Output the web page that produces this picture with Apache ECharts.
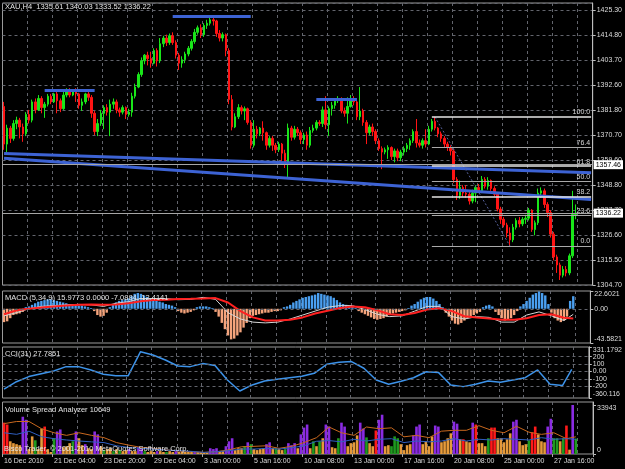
<!DOCTYPE html>
<html>
<head>
<meta charset="utf-8">
<title>XAU,H4</title>
<script src="https://cdn.jsdelivr.net/npm/echarts@6/dist/echarts.min.js"></script>
<style>
  html, body { margin: 0; padding: 0; background: #000; }
  #chart { width: 625px; height: 469px; }
</style>
</head>
<body>
<div id="chart"></div>
<script>
// H4 bars, [open, close, low, high]
const candles = [
  [1383.0,1366.5,1364.0,1385.0],[1366.5,1373.5,1363.0,1375.0],[1373.5,1369.0,1367.0,1374.5],[1369.0,1375.5,1368.0,1377.0],
  [1375.5,1377.0,1373.0,1378.5],[1377.0,1374.0,1369.0,1378.0],[1374.0,1371.0,1367.5,1375.5],[1371.0,1379.5,1370.0,1380.5],
  [1379.5,1377.0,1375.5,1381.5],[1377.0,1385.0,1376.0,1386.0],[1385.0,1381.5,1380.0,1386.5],[1381.5,1386.5,1381.0,1388.0],
  [1386.5,1382.5,1380.0,1387.5],[1382.5,1384.0,1378.0,1385.0],[1384.0,1387.5,1383.0,1388.5],[1387.5,1385.0,1384.0,1388.5],
  [1385.0,1388.5,1384.5,1389.0],[1388.5,1385.5,1380.0,1390.5],[1385.5,1382.0,1380.5,1386.5],[1382.0,1388.0,1381.5,1389.5],
  [1388.0,1390.0,1387.0,1391.0],[1390.0,1388.0,1387.0,1391.0],[1388.0,1390.0,1387.5,1390.5],[1390.0,1388.5,1385.0,1391.0],
  [1388.5,1383.5,1382.0,1389.0],[1383.5,1385.0,1381.0,1386.5],[1385.0,1388.5,1384.0,1389.0],[1388.5,1387.0,1385.5,1389.5],
  [1387.0,1380.0,1378.0,1388.0],[1380.0,1372.0,1370.5,1381.0],[1372.0,1375.5,1370.0,1377.5],[1375.5,1380.0,1374.5,1381.5],
  [1380.0,1382.5,1373.0,1383.5],[1382.5,1380.5,1379.0,1384.0],[1380.5,1384.0,1370.0,1386.0],[1384.0,1385.0,1382.0,1386.5],
  [1385.0,1381.5,1380.0,1386.0],[1381.5,1380.5,1378.5,1382.5],[1380.5,1382.5,1379.5,1383.5],[1382.5,1379.5,1377.5,1383.0],
  [1379.5,1380.5,1378.5,1382.0],[1380.5,1387.5,1378.5,1389.0],[1387.5,1391.5,1386.5,1393.0],[1391.5,1397.0,1391.0,1398.0],
  [1397.0,1403.0,1396.0,1404.5],[1403.0,1405.5,1401.5,1406.0],[1405.5,1404.0,1401.0,1407.0],[1404.0,1402.0,1400.0,1407.0],
  [1402.0,1407.5,1401.5,1408.5],[1407.5,1403.0,1400.5,1408.5],[1403.0,1410.5,1402.0,1413.0],[1410.5,1413.0,1409.0,1414.0],
  [1413.0,1411.0,1409.5,1414.5],[1411.0,1414.0,1410.0,1415.0],[1414.0,1411.0,1410.0,1415.5],[1411.0,1405.5,1404.0,1412.0],
  [1405.5,1402.0,1399.0,1406.5],[1402.0,1403.5,1400.0,1405.0],[1403.5,1406.0,1402.0,1407.0],[1406.0,1408.5,1405.0,1409.5],
  [1408.5,1411.5,1407.5,1412.5],[1411.5,1415.5,1410.5,1417.0],[1415.5,1417.5,1414.5,1418.5],[1417.5,1414.5,1413.0,1419.0],
  [1414.5,1418.5,1413.5,1419.5],[1418.5,1419.5,1417.0,1421.0],[1419.5,1421.0,1418.5,1422.5],[1421.0,1420.5,1418.5,1422.5],
  [1420.5,1415.0,1413.5,1421.0],[1415.0,1413.0,1411.5,1416.5],[1413.0,1414.5,1411.5,1415.5],[1414.5,1407.5,1405.0,1415.0],
  [1407.5,1386.0,1384.0,1408.5],[1386.0,1374.0,1372.5,1388.0],[1374.0,1378.5,1373.5,1380.0],[1378.5,1382.5,1377.5,1384.0],
  [1382.5,1381.0,1379.5,1383.5],[1381.0,1382.0,1377.0,1383.0],[1382.0,1376.0,1375.0,1382.5],[1376.0,1366.0,1364.5,1377.0],
  [1366.0,1373.0,1365.0,1377.0],[1373.0,1371.0,1369.0,1374.5],[1371.0,1373.5,1370.0,1374.0],[1373.5,1371.5,1368.0,1376.5],
  [1371.5,1366.0,1364.0,1372.0],[1366.0,1369.0,1365.0,1370.0],[1369.0,1366.0,1363.5,1370.0],[1366.0,1364.0,1362.5,1367.0],
  [1364.0,1366.5,1363.0,1367.5],[1366.5,1362.5,1359.0,1367.0],[1362.5,1358.5,1356.0,1364.0],[1358.5,1373.5,1352.0,1375.5],
  [1373.5,1369.5,1368.0,1374.5],[1369.5,1373.0,1368.5,1374.5],[1373.0,1371.5,1370.0,1374.0],[1371.5,1368.5,1366.5,1372.5],
  [1368.5,1370.5,1366.5,1371.5],[1370.5,1366.0,1364.0,1372.0],[1366.0,1372.5,1365.0,1374.0],[1372.5,1373.5,1371.5,1375.0],
  [1373.5,1376.0,1372.5,1377.0],[1376.0,1375.5,1374.5,1377.0],[1375.5,1381.5,1374.0,1383.0],[1381.5,1375.0,1373.0,1387.5],
  [1375.0,1382.0,1370.0,1383.0],[1382.0,1383.5,1379.0,1385.0],[1383.5,1385.5,1382.0,1386.5],[1385.5,1386.5,1384.5,1387.5],
  [1386.5,1381.0,1380.0,1387.0],[1381.0,1380.0,1378.5,1382.5],[1380.0,1383.0,1375.5,1387.0],[1383.0,1386.5,1382.5,1388.0],
  [1386.5,1385.0,1383.5,1387.5],[1385.0,1378.5,1377.0,1386.0],[1378.5,1381.0,1377.0,1391.5],[1381.0,1376.0,1374.5,1382.0],
  [1376.0,1371.5,1366.5,1377.0],[1371.5,1374.0,1370.5,1375.0],[1374.0,1372.0,1370.0,1375.5],[1372.0,1368.0,1366.5,1373.0],
  [1368.0,1364.5,1363.5,1369.0],[1364.5,1363.0,1355.5,1365.5],[1363.0,1364.0,1362.0,1365.0],[1364.0,1365.0,1360.0,1366.0],
  [1365.0,1361.0,1359.5,1365.5],[1361.0,1363.5,1358.5,1364.5],[1363.5,1360.5,1359.0,1364.5],[1360.5,1363.0,1359.0,1364.0],
  [1363.0,1364.5,1361.5,1365.5],[1364.5,1366.0,1363.0,1367.0],[1366.0,1368.0,1364.0,1369.0],[1368.0,1372.0,1367.0,1373.0],
  [1372.0,1367.0,1365.0,1377.5],[1367.0,1366.0,1365.0,1368.5],[1366.0,1368.0,1364.5,1369.0],[1368.0,1366.5,1365.0,1373.0],
  [1366.5,1373.0,1366.0,1374.5],[1373.0,1376.5,1372.0,1377.5],[1376.5,1373.5,1372.5,1378.4],[1373.5,1371.0,1369.5,1374.0],
  [1371.0,1369.0,1367.5,1372.0],[1369.0,1366.5,1365.0,1370.0],[1366.5,1365.0,1363.5,1367.5],[1365.0,1363.5,1361.5,1366.0],
  [1363.5,1351.0,1349.5,1364.5],[1351.0,1344.0,1342.0,1352.0],[1344.0,1347.5,1342.5,1350.5],[1347.5,1345.0,1343.5,1348.5],
  [1345.0,1344.5,1343.0,1348.5],[1344.5,1341.5,1340.0,1345.5],[1341.5,1345.0,1340.5,1346.5],[1345.0,1347.5,1341.0,1348.5],
  [1347.5,1346.0,1345.0,1349.0],[1346.0,1351.0,1345.0,1352.5],[1351.0,1348.0,1347.0,1352.0],[1348.0,1350.5,1346.5,1352.0],
  [1350.5,1347.0,1346.0,1351.0],[1347.0,1344.5,1343.5,1348.0],[1344.5,1338.0,1337.0,1345.0],[1338.0,1333.5,1331.5,1339.0],
  [1333.5,1331.0,1330.0,1334.5],[1331.0,1327.5,1325.5,1332.0],[1327.5,1324.5,1321.8,1330.0],[1324.5,1330.0,1323.5,1331.5],
  [1330.0,1333.0,1329.0,1334.0],[1333.0,1331.5,1330.0,1334.5],[1331.5,1333.5,1330.5,1334.5],[1333.5,1334.0,1331.5,1335.5],
  [1334.0,1337.5,1333.0,1338.5],[1337.5,1329.0,1328.0,1338.0],[1329.0,1332.0,1326.5,1333.0],[1332.0,1345.0,1331.0,1347.0],
  [1345.0,1346.0,1343.0,1347.5],[1346.0,1340.0,1338.5,1347.0],[1340.0,1336.5,1334.5,1341.0],[1336.5,1327.0,1325.5,1337.5],
  [1327.0,1317.0,1315.5,1328.0],[1317.0,1313.5,1310.0,1318.0],[1313.5,1309.0,1306.9,1314.5],[1309.0,1311.5,1308.0,1313.0],
  [1311.5,1310.0,1308.5,1313.0],[1310.0,1317.5,1309.0,1318.5],[1317.5,1335.6,1316.5,1346.0],[1335.61,1336.22,1333.52,1340.03]
];

const slotCount = 189; // chart shifted a few bars from the right edge
const timeLabels = ['16 Dec 2010', '21 Dec 04:00', '23 Dec 20:00', '29 Dec 04:00', '3 Jan 00:00', '5 Jan 16:00',
  '10 Jan 08:00', '13 Jan 00:00', '17 Jan 16:00', '20 Jan 08:00', '25 Jan 00:00', '27 Jan 16:00'];
const priceTicks = ['1304.70', '1315.50', '1326.60', '1337.70', '1348.80', '1359.60', '1370.70', '1381.80',
  '1392.60', '1403.70', '1414.80', '1425.30'];

// objects drawn on the price chart
const trendLines = [[0, 1362.4, 188, 1353.9], [0, 1360.3, 188, 1342.2]];
const levelLines = [[13, 29, 1390.2], [54, 79, 1422.6], [100, 113, 1386.3]];
const fibRatios = [100.0, 76.4, 61.8, 50.0, 38.2, 23.6, 0.0];
const fibHigh = 1378.4, fibLow = 1321.8, fibFrom = 137, fibLowBar = 162;
const priceLines = [1357.46, 1336.22];

// MACD(5,34,9): histogram per bar, main & signal sampled every 4 bars
const macdHist = [-17,-16,-12,-8,-7,-6,-4,2,3,5,7,9,10,11,12,12,11,10,9,8,7,6,5,5,4,4,3,2,1,-3,
  -8,-10,-9,-5,2,6,8,10,11,12,13,16,19,20,19,17,15,13,12,10,9,8,6,5,4,2,-3,-5,-6,-5,-4,-2,
  2,3,3,3,2,1,-4,-10,-18,-26,-34,-39,-38,-34,-30,-24,-18,-12,-9,-8,-7,-6,-5,-5,-4,-3,-3,-2,
  2,3,5,8,10,12,14,15,16,17,18,20,19,18,17,16,14,11,8,6,5,4,3,1,
  -3,-5,-7,-9,-11,-13,-14,-13,-12,-10,-8,-6,-5,-4,-3,-2,1,4,6,9,12,14,15,15,13,10,6,
  2,-5,-10,-15,-19,-20,-18,-15,-12,-10,-8,-6,-4,2,4,5,3,-4,-8,-12,-15,-14,-12,-8,
  -3,3,6,10,14,18,20,22,20,17,6,-5,-12,-15,-17,-15,-10,10,16];
const macdMain = [-9,-5,0,3,4,5,5.5,5,3,7,9,13,13,13,11.5,12,14.5,12,-5,-13,-17,-18,-17,-13,-8,-3,2,4,4,-1,
  -7,-10,-9,-3,3,3,-10,-13,-10,-11,-17,-17,-8,-4,-9,-15,-7.1];
const macdSignal = [-7,-2,0,1.5,3,4,5,5.5,5,5.5,7,9.5,11,11.5,12.5,12.7,13,13.6,8,-3,-11,-15,-15,-14,-11,-6,-2.5,1,3,2,
  -2,-7,-8,-5.5,-1,0.5,-3,-9.5,-11,-12.5,-14,-14,-12,-8,-7,-11.5,-12.4];
const macdTicks = [-43.5821, 0, 22.6021];

// CCI(31), sampled every 4 bars
const cci = [-240,-139,-70,-30,7,65,65,20,-39,-57,-60,268,223,155,74,65,106,79,-116,-265,
  -183,-130,-107,-85,-66,-25,97,124,133,43,-116,-174,-134,-85,-4,-13,-183,-206,-174,-130,
  -148,-116,-85,20,-174,-192,27.8];
const cciRange = [-360.116, 331.1792];
const cciLevels = [200, 100, 0, -100, -200];

// Volume Spread Analyzer
const volume = [
  21700,20400,8800,7500,6800,6100,25800,23700,3400,12200,
  9500,3400,17600,19000,3400,1400,10900,15600,17000,4700,
  5400,7500,8800,15600,10900,6100,6800,4000,3400,15600,
  13600,5400,2700,3400,4000,2000,3400,2700,2000,2700,
  3400,2000,2000,4700,3400,2000,1400,2000,1400,2000,
  2000,1400,1400,2000,1400,2000,1400,2000,1400,1400,
  2000,1400,1400,1400,1400,700,4000,3400,4000,2000,
  2000,5400,8800,10900,2700,4000,4000,5400,8100,6800,
  3400,2700,3400,4000,6800,8100,4000,4000,3400,2700,
  3400,7500,6100,7500,4000,13600,18300,20400,4000,8800,
  5400,8800,10900,20400,19000,4700,4000,10900,21700,19000,
  5400,7500,8100,12900,21700,17600,11500,7500,5400,16300,
  23700,27200,5400,6100,5400,12200,10900,6800,2700,6100,
  6800,12900,19000,20400,6800,8800,5400,12200,19700,19000,
  8100,8800,10900,14300,22400,21000,10200,10200,8800,8100,
  21700,20400,7500,7500,5400,10900,18300,18300,10900,10900,
  8100,10200,14300,22400,23700,8800,6100,6800,9500,15000,
  19000,13600,8800,8100,19000,24400,10900,10900,8800,10900,
  19700,3000,33943,10649];
// bar class: r = climax, p = high, g = up/normal, o = normal
const volumeType = [
  'r r o o o o p p o o', 'g o o r o o g p p o', 'o o g p o o p o o p', 'p o g o o g o g o o',
  'p o o p p g o o o p', 'o o g o o p o o o o', 'o p o o o o p p p o', 'o p p p o o o g p g',
  'o o o o p p o g o o', 'g p p p o p p p o g', 'o g o p p o o g p p', 'o o o o p p g o o r',
  'p p o o g g g o o o', 'o p p p o o o o p p', 'o o o o p p o r o o', 'p r o o o g r r o o',
  'o o o p p o o o g r', 'r o o o p p g g o g', 'r o p g'
].join(' ').split(' ');
const volFast = [21000,22500,22500,17500,14700,12900,14700,12900,11300,7900,6100,4500,3900,2900,2000,1600,
  1100,1600,2900,5000,5300,5700,3900,5300,7900,11300,18700,14700,12900,18700,17500,18100,
  11900,12900,11300,15800,16400,16400,19600,16400,14700,19200,15100,13600,14700,10600,11900];
const volSlow = [14700,13600,15800,12000,10600,9700,9000,8400,7900,5700,4500,3900,3400,2700,2300,1800,
  1100,1600,2300,3400,3400,3900,3400,4300,5700,8800,9300,8400,10200,9000,10200,10600,
  7900,9000,8400,9000,10600,9000,10200,9700,10600,10200,9700,11300,10200,10600,10200];
const volTicks = [0, 33943];

const bull = '#19e619', bear = '#ff1414';
const gridDash = { color: '#63656d', type: [3, 3], width: 1 };
const axisText = { color: '#dcdcdc', fontSize: 7, fontFamily: 'Liberation Sans' };
const volColors = { r: '#ff1a1a', p: '#8a2be2', g: '#1f9a1f', o: '#e59a3a' };

const categories = Array.from({ length: slotCount }, (_, i) => String(i));

// sampled series go on every 4th bar, the last value on the last bar
function atSamples(vals) {
  const out = new Array(candles.length).fill(null);
  vals.forEach((v, k) => { out[k === vals.length - 1 ? candles.length - 1 : k * 4] = v; });
  return out;
}

const priceMin = 1304.7;
const priceStep = (1425.3 - 1304.7) / 11;

const grids = [
  { left: 2.5, width: 590.5, top: 3, height: 282 },
  { left: 2.5, width: 590.5, top: 291, height: 52 },
  { left: 2.5, width: 590.5, top: 347, height: 51 },
  { left: 2.5, width: 590.5, top: 402, height: 52 }
].map(g => Object.assign(g, { show: true, borderColor: '#9a9a9a', borderWidth: 1 }));

const xAxes = grids.map((g, k) => ({
  type: 'category', gridIndex: k, data: categories, boundaryGap: true,
  axisLine: { show: false },
  axisTick: k === 3 ? { show: true, interval: i => i % 16 === 0, length: 3, lineStyle: { color: '#aaa' } } : { show: false },
  axisLabel: k === 3 ? Object.assign({
    interval: i => i % 16 === 0, formatter: (v, i) => timeLabels[i / 16] || '', align: 'left', margin: 4
  }, axisText) : { show: false },
  splitLine: { show: true, interval: i => i > 0 && i % 8 === 0, lineStyle: gridDash }
}));

const rightAxis = {
  position: 'right', type: 'value',
  axisLine: { show: true, lineStyle: { color: '#bdbdbd' } },
  axisTick: { show: true, length: 3, lineStyle: { color: '#bdbdbd' } }
};

// min label sits above its level, max label below it, as in the terminal
function indicatorAxis(k, ticks, min, max, fmt) {
  return Object.assign({}, rightAxis, {
    gridIndex: k, min: min, max: max,
    axisTick: { show: true, length: 3, customValues: ticks, lineStyle: { color: '#bdbdbd' } },
    axisLabel: Object.assign({ margin: 4, customValues: ticks, showMinLabel: true, showMaxLabel: true,
      hideOverlap: false, verticalAlignMinLabel: 'bottom', verticalAlignMaxLabel: 'top',
      formatter: fmt }, axisText),
    splitLine: { show: false }
  });
}

const numFmt = v => v === 0 ? '0.00' : String(v);
const cciLevelAxis = indicatorAxis(2, cciLevels.slice().reverse(), cciRange[0], cciRange[1], numFmt);
cciLevelAxis.axisLabel.verticalAlignMinLabel = 'middle';
cciLevelAxis.axisLabel.verticalAlignMaxLabel = 'middle';

const yAxes = [
  Object.assign({}, rightAxis, {
    gridIndex: 0, min: priceMin, max: priceMin + priceStep * 282 / 25, interval: priceStep,
    axisLabel: Object.assign({ margin: 4, showMaxLabel: false,
      formatter: v => priceTicks[Math.round((v - priceMin) / priceStep)] || '' }, axisText),
    splitLine: { show: true, lineStyle: gridDash }
  }),
  indicatorAxis(1, macdTicks, macdTicks[0], macdTicks[2], numFmt),
  cciLevelAxis,
  indicatorAxis(2, cciRange, cciRange[0], cciRange[1], numFmt),
  indicatorAxis(3, volTicks, 0, 36000, v => String(v))
];

// markLines on the price chart
const priceMarks = [];
trendLines.forEach(t => priceMarks.push([
  { coord: [t[0], t[1]], lineStyle: { color: '#3d63d4', width: 3, type: 'solid' }, label: { show: false } },
  { coord: [t[2], t[3]] }
]));
levelLines.forEach(l => priceMarks.push([
  { coord: [l[0], l[2]], lineStyle: { color: '#3d63d4', width: 3, type: 'solid' }, label: { show: false } },
  { coord: [l[1], l[2]] }
]));
priceMarks.push([
  { coord: [fibFrom + 1, fibHigh], lineStyle: { color: '#56609a', width: 1, type: [2, 2] }, label: { show: false } },
  { coord: [fibLowBar, fibLow] }
]);
fibRatios.forEach(r => {
  const lvl = fibLow + (fibHigh - fibLow) * r / 100;
  const bright = r === 61.8 || r === 38.2 || r === 100;
  priceMarks.push([
    { coord: [fibFrom, lvl], lineStyle: { color: bright ? '#e6e6e6' : '#a9a9a9', width: bright ? 1.5 : 1, type: 'solid' },
      label: { show: true, position: 'insideEndTop', formatter: r.toFixed(1), color: '#d8d8d8',
        fontSize: 7, fontFamily: 'Liberation Sans', distance: [1, 1] } },
    { coord: [slotCount - 1, lvl] }
  ]);
});
priceLines.forEach(p => priceMarks.push({
  yAxis: p, lineStyle: { color: '#a6a6a6', width: 1.2, type: 'solid' },
  label: { show: true, position: 'end', formatter: p.toFixed(2), color: '#000', backgroundColor: '#fff',
    fontSize: 7, fontFamily: 'Liberation Sans', padding: [1, 2, 1, 2], distance: 1 }
}));

const option = {
  backgroundColor: '#000',
  animation: false,
  textStyle: { fontFamily: 'Liberation Sans' },
  title: [
    { text: 'XAU,H4  1335.61 1340.03 1333.52 1336.22', left: 5, top: 3 },
    { text: 'MACD (5,34,9) 15.9773 0.0000 -7.0884 -12.4141', left: 5, top: 294 },
    { text: 'CCI(31) 27.7851', left: 5, top: 350 },
    { text: 'Volume Spread Analyzer 10649', left: 5, top: 406 },
    { text: 'Bisco Trader, \u00a9 2001-2010 MetaQuotes Software Corp.', left: 4, top: 445 }
  ].map(t => Object.assign(t, { padding: 0,
    textStyle: { color: '#e4e4e4', fontSize: 7.5, fontWeight: 'normal', fontFamily: 'Liberation Sans' } })),
  grid: grids,
  xAxis: xAxes,
  yAxis: yAxes,
  series: [
    {
      type: 'candlestick', xAxisIndex: 0, yAxisIndex: 0, data: candles, barWidth: 2,
      itemStyle: { color: bull, color0: bear, borderColor: bull, borderColor0: bear, borderWidth: 1 },
      markLine: { silent: true, symbol: ['none', 'none'], animation: false, data: priceMarks }
    },
    {
      type: 'bar', xAxisIndex: 1, yAxisIndex: 1, barWidth: 2.4,
      data: macdHist.map(v => ({ value: v, itemStyle: { color: v >= 0 ? '#4a9ff0' : '#f5a47c' } })),
      markLine: { silent: true, symbol: ['none', 'none'], label: { show: false },
        lineStyle: gridDash, data: [{ yAxis: 0 }] }
    },
    {
      type: 'line', xAxisIndex: 1, yAxisIndex: 1, data: atSamples(macdMain), connectNulls: true,
      showSymbol: false, lineStyle: { color: '#d6d6d6', width: 1 }
    },
    {
      type: 'line', xAxisIndex: 1, yAxisIndex: 1, data: atSamples(macdSignal), connectNulls: true,
      showSymbol: false, lineStyle: { color: '#ff2020', width: 2 }
    },
    {
      type: 'line', xAxisIndex: 2, yAxisIndex: 2, data: atSamples(cci), connectNulls: true,
      showSymbol: false, lineStyle: { color: '#3d93ea', width: 1.5 },
      markLine: { silent: true, symbol: ['none', 'none'], label: { show: false },
        lineStyle: gridDash, data: cciLevels.map(v => ({ yAxis: v })) }
    },
    {
      type: 'bar', xAxisIndex: 3, yAxisIndex: 4, barWidth: 2.6,
      data: volume.map((v, i) => ({ value: v, itemStyle: { color: volColors[volumeType[i]] } }))
    },
    {
      type: 'line', xAxisIndex: 3, yAxisIndex: 4, data: atSamples(volFast), connectNulls: true,
      showSymbol: false, lineStyle: { color: '#c8681e', width: 1 }
    },
    {
      type: 'line', xAxisIndex: 3, yAxisIndex: 4, data: atSamples(volSlow), connectNulls: true,
      showSymbol: false, lineStyle: { color: '#2f5fc0', width: 1 }
    }
  ]
};

const chart = echarts.init(document.getElementById('chart'), null, { renderer: 'canvas' });
chart.setOption(option);
</script>
</body>
</html>
